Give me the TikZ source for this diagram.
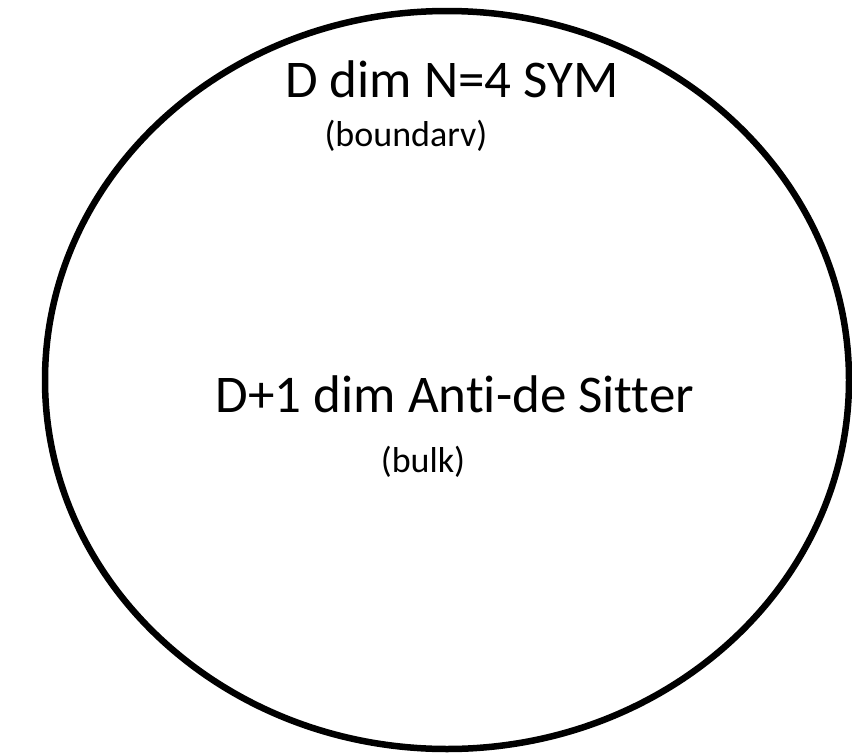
\documentclass[tikz,border=0pt]{standalone}
\usepackage{fontspec}
\setmainfont{Carlito}[Ligatures=NoCommon]
\usetikzlibrary{shapes.geometric}

\begin{document}
\begin{tikzpicture}[
            x=1pt, y=-1pt,
            rim/.style={ellipse, draw=black, line width=6.5pt, minimum width=804pt, minimum height=738pt, inner sep=0pt},
            big/.style={font=\fontsize{53}{62}\selectfont, inner sep=0pt, anchor=base},
            small/.style={font=\fontsize{36}{42}\selectfont, inner sep=0pt, anchor=base}
        ]
            \useasboundingbox (0,0) rectangle (852,755);

            % the AdS space with its boundary
            \node[rim] (ads) at (447,380) {};

            \node[big] (cft) at (452,97) {D dim N=4 SYM};
            \node[small] (bdy) at (406,146) {(boundarv)};

            \node[big] (grav) at (455,412) {D+1 dim Anti-de Sitter};
            \node[small] (bulk) at (423,472) {(bulk)};
        \end{tikzpicture}
\end{document}
